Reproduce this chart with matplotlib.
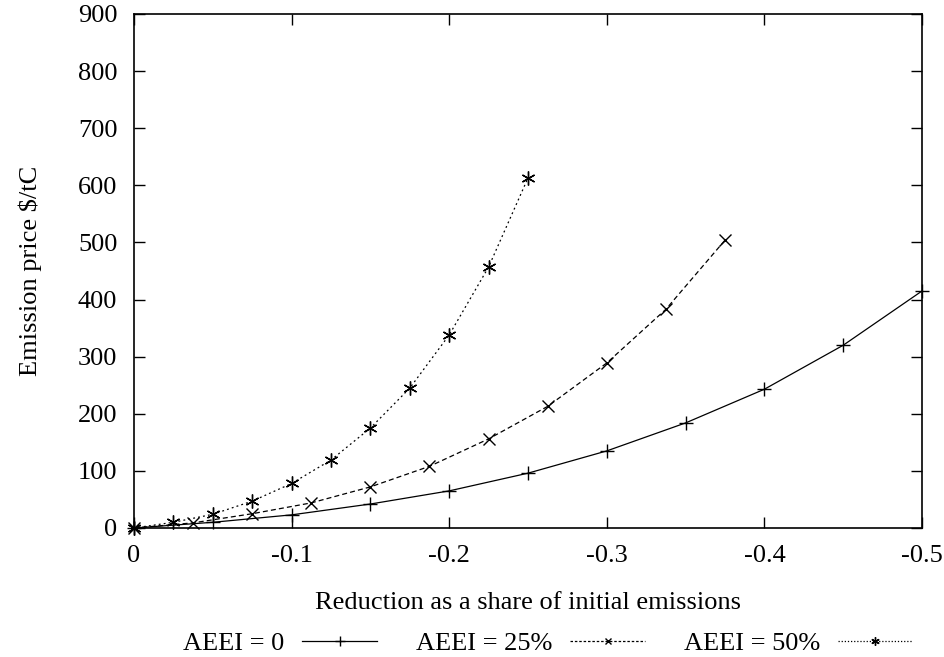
import matplotlib
matplotlib.use("Agg")
import matplotlib.pyplot as plt
from matplotlib.lines import Line2D

plt.rcParams['font.family'] = ['Liberation Serif', 'DejaVu Serif']
plt.rcParams['axes.unicode_minus'] = False

# Data
x0 = [0, -0.05, -0.10, -0.15, -0.20, -0.25, -0.30, -0.35, -0.40, -0.45, -0.50]
y0 = [0, 10, 23, 42, 65, 96, 135, 184, 243, 320, 415]

x25 = [0, -0.0375, -0.075, -0.1125, -0.15, -0.1875, -0.225, -0.2625, -0.30, -0.3375, -0.375]
y25 = [0, 9, 25, 44, 72, 108, 156, 213, 289, 383, 504]

x50 = [0, -0.025, -0.05, -0.075, -0.10, -0.125, -0.15, -0.175, -0.20, -0.225, -0.25]
y50 = [0, 10, 24, 47, 78, 119, 175, 245, 338, 457, 613]

labels = ["AEEI = 0", "AEEI = 25%", "AEEI = 50%"]
xticks = [0, -0.1, -0.2, -0.3, -0.4, -0.5]
xticklabels = ["0", "-0.1", "-0.2", "-0.3", "-0.4", "-0.5"]
yticks = [0, 100, 200, 300, 400, 500, 600, 700, 800, 900]

FS = 19

fig = plt.figure(figsize=(9.45, 6.57), dpi=100)
ax = fig.add_axes([134/945, 1-528/657, (922-134)/945, (528-14)/657])

lw = 0.9
ax.plot(x0, y0, color='black', lw=lw, ls='-', marker='+', ms=10, mew=1.0, clip_on=False)
ax.plot(x25, y25, color='black', lw=lw, ls=(0, (4, 2.5)), marker='x', ms=8, mew=1.0, clip_on=False)
ax.plot(x50, y50, color='black', lw=lw, ls=(0, (1.5, 2.5)), marker=(6, 2, 0), ms=10, mew=1.0, clip_on=False)

ax.set_xlim(0, -0.5)
ax.set_ylim(0, 900)
ax.set_xticks(xticks)
ax.set_xticklabels(xticklabels)
ax.set_yticks(yticks)
ax.tick_params(direction='in', length=8, width=1, top=True, right=True, labelsize=FS)
ax.tick_params(axis='x', pad=12)
ax.tick_params(axis='y', pad=12)
for s in ax.spines.values():
    s.set_linewidth(1.2)

ax.set_xlabel("Reduction as a share of initial emissions", fontsize=FS, labelpad=18)
ax.set_ylabel("Emission price $/tC", fontsize=FS, labelpad=26)

handles = [
    Line2D([], [], color='black', lw=lw, ls='-', marker='+', ms=7),
    Line2D([], [], color='black', lw=lw, ls=(0, (2, 1.5)), marker='x', ms=5),
    Line2D([], [], color='black', lw=lw, ls=(0, (1, 1.5)), marker=(6, 2, 0), ms=6),
]
fig.legend(handles, labels, loc='center', bbox_to_anchor=(548/945, 1-643/657), ncol=3,
           frameon=False, markerfirst=False, fontsize=FS, handlelength=2.85,
           columnspacing=1.45, handletextpad=0.68, numpoints=1,
           borderpad=0, borderaxespad=0)

fig.savefig("out.png", dpi=100)
